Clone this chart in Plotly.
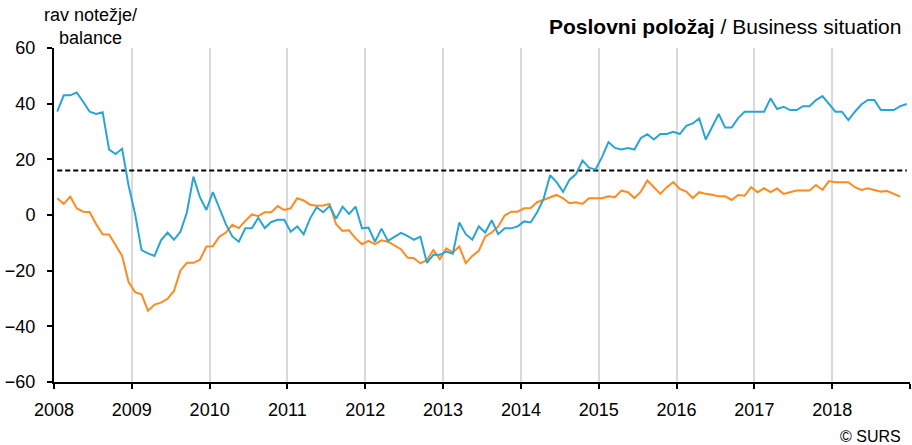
import plotly.graph_objects as go

# Monthly balance series, January 2008 - December 2018
months = [f"{y}-{m:02d}" for y in range(2008, 2019) for m in range(1, 13)]

blue_values = [
    37.1, 43.0, 43.0, 44.0, 40.7, 37.1, 36.3, 36.9, 23.5, 21.9, 23.8, 10.6,
    0.4, -12.6, -13.8, -14.7, -9.1, -6.3, -8.9, -6.0, 1.0, 13.8, 6.4, 1.8,
    8.2, 2.4, -3.3, -7.7, -9.6, -4.8, -4.8, -1.0, -4.7, -2.5, -1.7, -1.7,
    -6.0, -4.1, -6.9, -1.2, 2.8, 1.0, 3.2, -1.3, 3.0, 0.4, 3.0, -4.8,
    -4.5, -9.6, -4.9, -9.3, -7.7, -6.4, -7.5, -8.9, -7.8, -17.2, -14.3, -14.3,
    -13.1, -13.9, -2.7, -6.9, -8.9, -4.1, -6.3, -1.9, -6.9, -4.8, -4.8, -4.1,
    -2.3, -2.7, 1.0, 5.8, 14.3, 11.8, 8.3, 12.7, 14.7, 19.6, 17.0, 16.3,
    20.8, 26.2, 24.1, 23.5, 24.1, 23.5, 27.7, 29.0, 27.1, 29.1, 29.1, 29.9,
    29.1, 32.0, 32.9, 34.7, 27.1, 31.7, 36.3, 31.4, 31.4, 34.8, 37.1, 37.1,
    37.1, 37.1, 41.9, 38.1, 38.9, 37.7, 37.7, 39.1, 39.1, 41.3, 42.7, 40.1,
    37.1, 37.1, 34.1, 37.1, 39.7, 41.3, 41.3, 37.7, 37.7, 37.7, 39.1, 39.9,
]

orange_values = [
    6.0, 4.0, 6.6, 2.4, 1.2, 1.1, -3.3, -6.9, -7.0, -11.1, -14.7, -24.1,
    -27.7, -28.5, -34.4, -32.2, -31.5, -30.1, -27.3, -19.9, -17.2, -17.2, -16.1, -11.3,
    -11.2, -7.8, -6.3, -3.5, -4.7, -2.1, 0.2, -0.4, 1.0, 1.0, 3.2, 1.8,
    2.4, 6.0, 5.2, 3.7, 3.3, 3.4, 4.0, -3.3, -5.7, -5.5, -8.4, -10.5,
    -9.3, -10.5, -9.1, -9.6, -10.8, -12.3, -15.3, -15.5, -17.4, -16.2, -12.6, -15.9,
    -12.0, -13.5, -11.3, -17.3, -14.7, -12.9, -7.7, -6.3, -4.1, -0.2, 1.2, 1.2,
    2.4, 2.5, 4.6, 5.4, 6.4, 7.2, 6.0, 4.2, 4.6, 4.0, 6.0, 6.0,
    6.0, 6.7, 6.4, 8.8, 8.2, 6.1, 8.4, 12.4, 10.0, 7.6, 10.0, 11.8,
    9.4, 8.4, 6.1, 8.2, 7.6, 7.3, 6.7, 6.7, 5.4, 7.2, 6.9, 10.0,
    8.2, 9.6, 8.2, 9.5, 7.6, 8.2, 8.8, 8.8, 8.8, 10.8, 9.0, 12.2,
    11.8, 11.8, 11.8, 10.0, 9.0, 9.6, 9.1, 8.4, 8.6, 7.6, 6.6, None,
]

long_term_average = 16.0

year_ticks = list(range(2008, 2020))
year_labels = [str(y) for y in range(2008, 2019)] + [""]

# place each month at the middle of its slot on a decimal-year axis
x_pos = [int(m[:4]) + (int(m[5:]) - 0.5) / 12 for m in months]

FONT = "Liberation Sans, Arial, sans-serif"

fig = go.Figure()
fig.add_trace(go.Scatter(
    x=[x_pos[0], x_pos[-1]], y=[long_term_average, long_term_average],
    mode="lines", line=dict(color="black", width=2, dash="5px,3px"),
    showlegend=False, hoverinfo="skip",
))
fig.add_trace(go.Scatter(
    x=x_pos, y=orange_values, mode="lines",
    line=dict(color="#FF8A1F", width=2), showlegend=False,
))
fig.add_trace(go.Scatter(
    x=x_pos, y=blue_values, mode="lines",
    line=dict(color="#2AA4D5", width=2), showlegend=False,
))

fig.update_layout(
    width=912, height=445,
    margin=dict(l=54, r=2, t=48, b=63),
    paper_bgcolor="white", plot_bgcolor="white",
    font=dict(family=FONT, size=18, color="black"),
    xaxis=dict(
        range=[2008, 2019], tickmode="array", tickvals=year_ticks, ticktext=year_labels,
        showgrid=True, gridcolor="#D9D9D9", gridwidth=2,
        showline=True, linecolor="black", linewidth=2,
        ticks="outside", ticklen=5, tickwidth=2, tickcolor="black",
        ticklabelstandoff=5, zeroline=False, fixedrange=True,
    ),
    yaxis=dict(
        range=[-60, 60], tickmode="array", tickvals=[-60, -40, -20, 0, 20, 40, 60],
        showgrid=False, zeroline=False,
        showline=True, linecolor="black", linewidth=2,
        ticks="outside", ticklen=5, tickwidth=2, tickcolor="black",
        ticklabelstandoff=8, fixedrange=True,
    ),
    annotations=[
        dict(text="<b>Poslovni položaj</b> / Business situation",
             xref="paper", yref="paper", x=0.992, y=1.063,
             xanchor="right", yanchor="middle", showarrow=False,
             font=dict(family=FONT, size=21, color="black")),
        dict(text="rav notežje/<br>balance",
             xref="paper", yref="paper", x=0.043, y=1.063,
             xanchor="center", yanchor="middle", showarrow=False, align="center",
             font=dict(family=FONT, size=18, color="black")),
        dict(text="© SURS",
             xref="paper", yref="paper", x=0.992, y=-0.162,
             xanchor="right", yanchor="middle", showarrow=False,
             font=dict(family=FONT, size=16, color="black")),
    ],
)

fig.write_html("out.html")
